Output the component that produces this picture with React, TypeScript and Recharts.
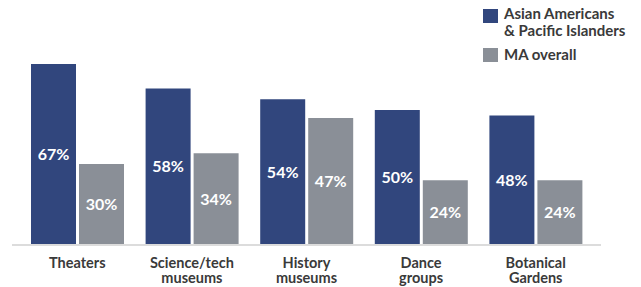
import React from "react";
import { BarChart, Bar, XAxis, YAxis, LabelList } from "recharts";

const categories = ["Theaters", "Science/tech museums", "History museums", "Dance groups", "Botanical Gardens"];
const categoryLines = [["Theaters"], ["Science/tech", "museums"], ["History", "museums"], ["Dance", "groups"], ["Botanical", "Gardens"]];
const aapiValues = [67, 58, 54, 50, 48];
const maValues = [30, 34, 47, 24, 24];
const seriesNames = ["Asian Americans & Pacific Islanders", "MA overall"];

const DARK = "#31467d";
const GRAY = "#8a8f97";
const TEXT = "#3a3a3a";
const FONT = "Lato, 'Open Sans', sans-serif";

const data = categories.map((c, i) => ({ name: c, idx: i, aapi: aapiValues[i], ma: maValues[i] }));

const Tick = (props: any) => {
  const { x, y, payload } = props;
  const lines = categoryLines[payload.index] || [payload.value];
  return (
    <g>
      {lines.map((l: string, i: number) => (
        <text key={i} x={x} y={y + 23 + i * 15} textAnchor="middle" fill={TEXT} fontFamily={FONT} fontWeight={700} fontSize={14.5}>
          {l}
        </text>
      ))}
    </g>
  );
};

const LegendBox = () => (
  <div style={{ position: "absolute", left: 0, top: 0, width: 641, height: 70, fontFamily: FONT, fontWeight: 700, fontSize: 15, color: TEXT, pointerEvents: "none" }}>
    <div style={{ position: "absolute", left: 483, top: 9, width: 15, height: 14, background: DARK }} />
    <div style={{ position: "absolute", left: 504, top: 5, lineHeight: "17px" }}>
      Asian Americans<br />&amp; Pacific Islanders
    </div>
    <div style={{ position: "absolute", left: 483, top: 48, width: 15, height: 14, background: GRAY }} />
    <div style={{ position: "absolute", left: 504, top: 46, lineHeight: "17px" }}>{seriesNames[1]}</div>
  </div>
);

export default function App() {
  return (
    <div style={{ position: "absolute", left: 0, top: 0, width: 641, height: 287, background: "#fff" }}>
      <BarChart
        width={641}
        height={287}
        data={data}
        margin={{ top: 56, right: 40, bottom: 12, left: 12 }}
        barSize={45}
        barGap={3}
      >
        <YAxis hide domain={[0, 70]} />
        <XAxis
          dataKey="name"
          height={30}
          padding={{ left: 8, right: 8 }}
          axisLine={{ stroke: "#dcdcdc", strokeWidth: 2 }}
          tickLine={false}
          tickSize={0}
          tickMargin={0}
          interval={0}
          tick={<Tick />}
        />
        <Bar dataKey="aapi" name={seriesNames[0]} fill={DARK} isAnimationActive={false}>
          <LabelList dataKey="aapi" position="center" fill="#fff" fontFamily={FONT} fontWeight={700} fontSize={16} formatter={(v: any) => `${v}%`} />
        </Bar>
        <Bar dataKey="ma" name={seriesNames[1]} fill={GRAY} isAnimationActive={false}>
          <LabelList dataKey="ma" position="center" fill="#fff" fontFamily={FONT} fontWeight={700} fontSize={16} formatter={(v: any) => `${v}%`} />
        </Bar>
      </BarChart>
      <LegendBox />
    </div>
  );
}
